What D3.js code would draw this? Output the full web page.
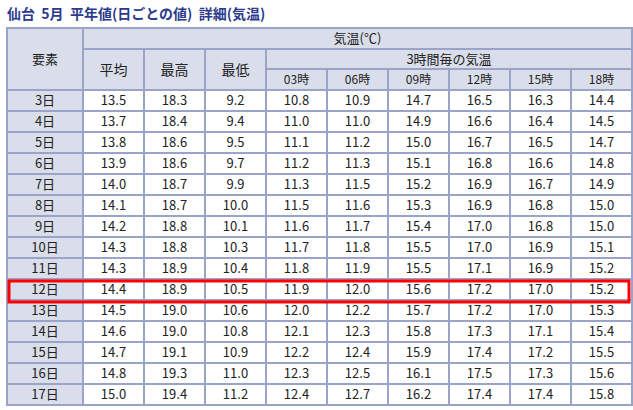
<!DOCTYPE html><html><head><meta charset="utf-8"><script src="https://cdn.jsdelivr.net/npm/d3@7"></script>
<style>body{margin:0;background:#fff}text{font-family:"Noto Sans CJK JP",sans-serif}</style></head><body><svg id="c" width="633" height="410"></svg>
<script>
const title="仙台  5月  平年値(日ごとの値)  詳細(気温)";
const days=["3日","4日","5日","6日","7日","8日","9日","10日","11日","12日","13日","14日","15日","16日","17日"];
const mainCols=["平均","最高","最低"];
const hourCols=["03時","06時","09時","12時","15時","18時"];
const avg=[13.5,13.7,13.8,13.9,14.0,14.1,14.2,14.3,14.3,14.4,14.5,14.6,14.7,14.8,15.0];
const maxT=[18.3,18.4,18.6,18.6,18.7,18.7,18.8,18.8,18.9,18.9,19.0,19.0,19.1,19.3,19.4];
const minT=[9.2,9.4,9.5,9.7,9.9,10.0,10.1,10.3,10.4,10.5,10.6,10.8,10.9,11.0,11.2];
const h03=[10.8,11.0,11.1,11.2,11.3,11.5,11.6,11.7,11.8,11.9,12.0,12.1,12.2,12.3,12.4];
const h06=[10.9,11.0,11.2,11.3,11.5,11.6,11.7,11.8,11.9,12.0,12.2,12.3,12.4,12.5,12.7];
const h09=[14.7,14.9,15.0,15.1,15.2,15.3,15.4,15.5,15.5,15.6,15.7,15.8,15.9,16.1,16.2];
const h12=[16.5,16.6,16.7,16.8,16.9,16.9,17.0,17.0,17.1,17.2,17.2,17.3,17.4,17.5,17.4];
const h15=[16.3,16.4,16.5,16.6,16.7,16.8,16.8,16.9,16.9,17.0,17.0,17.1,17.2,17.3,17.4];
const h18=[14.4,14.5,14.7,14.8,14.9,15.0,15.0,15.1,15.2,15.2,15.3,15.4,15.5,15.6,15.8];
const series=[avg,maxT,minT,h03,h06,h09,h12,h15,h18];
const highlight="12日";

const svg=d3.select("#c");
const border="#9aa4c8", hdr="#d9deea";
const colKeys=["label",...mainCols,...hourCols];
const x=d3.scaleOrdinal().domain(colKeys).range([7,83,144,205,266,327,388,449,510,571]);
const w=k=>k==="label"?76:61;
const right=632;
const y=d3.scaleBand().domain(days).range([90,405]);
const fmt=d3.format(".1f");
svg.append("text").attr("x",7).attr("y",19).attr("font-size",14).attr("font-weight","bold").attr("fill","#2b3a8c").attr("xml:space","preserve").text(title);
const g=svg.append("g");
function cell(x0,y0,ww,hh,fill,t,fs){
  g.append("rect").attr("x",x0).attr("y",y0).attr("width",ww).attr("height",hh).attr("fill",fill).attr("stroke",border).attr("stroke-width",2);
  if(t!=null)g.append("text").attr("x",x0+ww/2).attr("y",y0+hh/2).attr("dy","0.36em").attr("text-anchor","middle").attr("font-size",fs||13).attr("fill","#222").text(t);
}
// headers
cell(7,28,76,62,hdr,"要素");
cell(83,28,right-83,21,hdr,"気温(℃)");
mainCols.forEach(c=>cell(x(c),49,61,41,hdr,c,14));
cell(266,49,right-266,20,hdr,"3時間毎の気温");
hourCols.forEach(c=>cell(x(c),69,61,21,hdr,c,12));
// body
days.forEach((d,i)=>{
  cell(7,y(d),76,y.bandwidth(),hdr,d);
  series.forEach((s,j)=>{const k=colKeys[j+1];cell(x(k),y(d),w(k),y.bandwidth(),"#fff",fmt(s[i]));});
});
svg.append("rect").attr("x",9).attr("y",y(highlight)+2).attr("width",620).attr("height",y.bandwidth()).attr("fill","none").attr("stroke","#f00").attr("stroke-width",3);
</script></body></html>
